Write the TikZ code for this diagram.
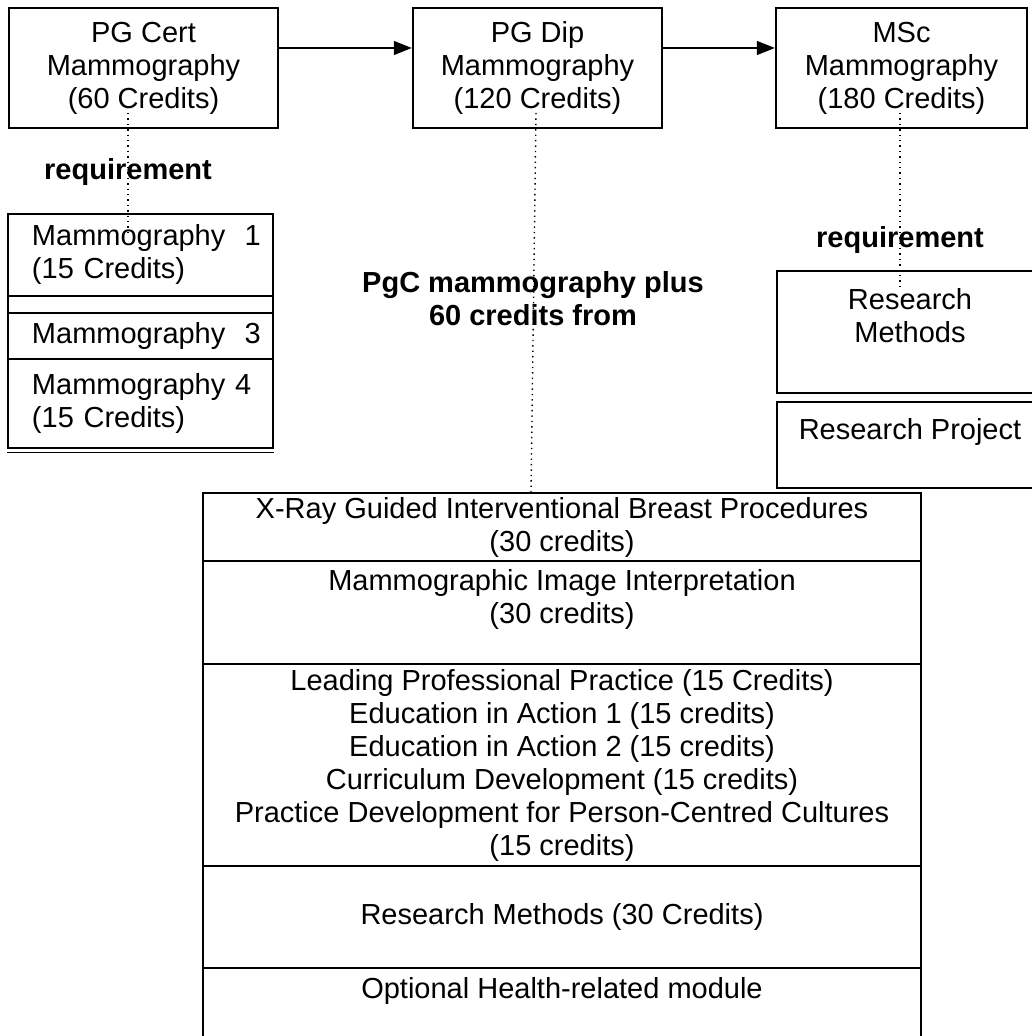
\documentclass[tikz,border=0pt]{standalone}
\usepackage{fontspec}
\setmainfont{Liberation Sans}
\usetikzlibrary{arrows.meta}

\begin{document}
\begin{tikzpicture}[x=0.5pt, y=-0.5pt,
    every node/.style={font=\fontsize{14.5}{16.5}\selectfont},
    prog_box/.style={rectangle, draw, line width=1.2pt, align=center, minimum height=60pt, inner sep=0},
    left_row/.style={rectangle, draw, line width=0.9pt, minimum width=132.5pt, text width=126.5pt, inner xsep=3pt, inner ysep=0, align=left},
    right_row/.style={rectangle, draw, minimum width=133pt, inner sep=0, align=center},
    opt_row/.style={rectangle, draw, line width=1pt, minimum width=359pt, inner sep=0, align=center},
    req_text/.style={font=\fontsize{14.5}{16.5}\selectfont\bfseries, align=center},
    link/.style={dotted, line width=0.7pt},
    step_arrow/.style={-{Triangle[length=9pt,width=7pt]}, line width=0.7pt}]
    \useasboundingbox (0,0) rectangle (1031,1036);

    % programme awards
    \node[prog_box, minimum width=134.5pt] (cert) at (143.5,68) {PG Cert\\Mammography\\(60 Credits)};
    \node[prog_box, minimum width=124.5pt] (dip) at (537.5,68) {PG Dip\\Mammography\\(120 Credits)};
    \node[prog_box, minimum width=125.5pt] (msc) at (901.5,68) {MSc\\Mammography\\(180 Credits)};
    \draw[step_arrow] ([yshift=10pt]cert.east) -- ([yshift=10pt]dip.west);
    \draw[step_arrow] ([yshift=10pt]dip.east) -- ([yshift=10pt]msc.west);

    % PG Cert modules
    \node[req_text] (req_cert) at (128,172) {requirement};
    \node[left_row, minimum height=41pt] (m1) at (140.5,255) {\hspace*{9pt}Mammography\ \ 1\\\hspace*{9pt}(15 Credits)};
    \node[left_row, minimum height=8.5pt] (m2) at (140.5,304.5) {};
    \node[left_row, minimum height=23pt] (m3) at (140.5,336) {\hspace*{9pt}Mammography\ \ 3};
    \node[left_row, minimum height=44.5pt] (m4) at (140.5,403.5) {\hspace*{9pt}Mammography 4\\\hspace*{9pt}(15 Credits)};
    \draw[line width=0.6pt] ([yshift=-2pt]m4.south west) -- ([yshift=-2pt]m4.south east);

    % PG Dip options
    \node[req_text] (req_dip) at (533,299) {PgC mammography plus\\60 credits from};
    \node[opt_row, minimum height=34pt] (r1) at (562,527) {X-Ray Guided Interventional Breast Procedures\\(30 credits)};
    \node[opt_row, minimum height=51.5pt] (r2) at (562,612.5) {Mammographic Image Interpretation\\(30 credits)\\~};
    \node[opt_row, minimum height=101pt] (r3) at (562,765) {Leading Professional Practice (15 Credits)\\Education in Action 1 (15 credits)\\Education in Action 2 (15 credits)\\Curriculum Development (15 credits)\\Practice Development for Person-Centred Cultures\\(15 credits)};
    \node[opt_row, minimum height=51pt] (r4) at (562,917) {Research Methods (30 Credits)};
    \node[opt_row, minimum height=36pt] (r5) at (562,1004) {Optional Health-related module\\~};

    % MSc modules
    \node[req_text] (req_msc) at (900,240) {requirement};
    \node[right_row, line width=1pt, minimum height=61pt] (rm) at (910,332) {Research\\Methods\\~};
    \node[right_row, line width=0.7pt, minimum height=43pt] (rp) at (910,445) {Research Project\\~};

    % requirement links
    \coordinate (cert_dot) at (128,113);
    \coordinate (m1_dot) at (128,232);
    \coordinate (dip_dot) at (536,113);
    \coordinate (r1_dot) at (531,493);
    \coordinate (msc_dot) at (900,113);
    \coordinate (rm_dot) at (900,291);
    \draw[link] (cert_dot) -- (m1_dot);
    \draw[link] (dip_dot) -- (r1_dot);
    \draw[link] (msc_dot) -- (rm_dot);
\end{tikzpicture}
\end{document}
